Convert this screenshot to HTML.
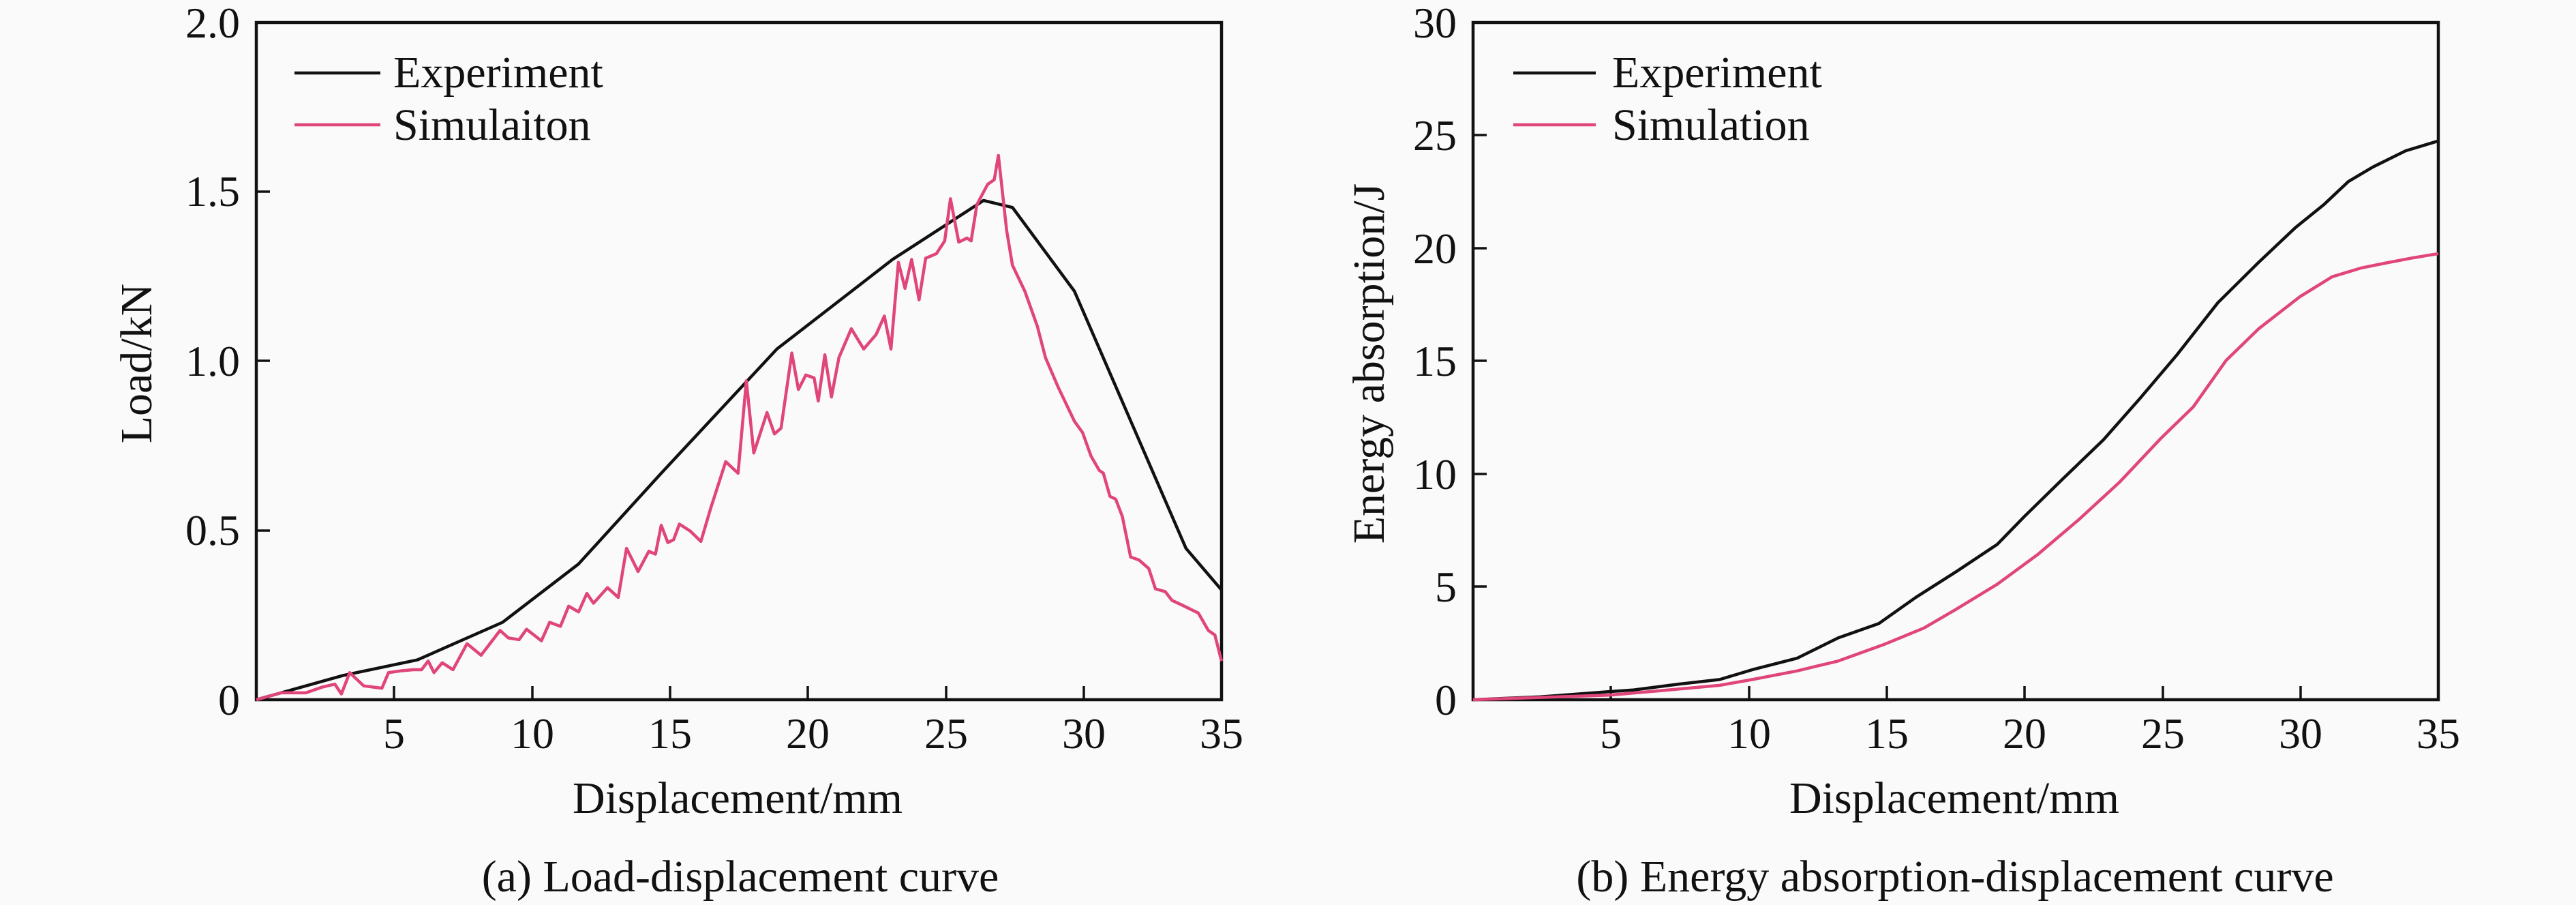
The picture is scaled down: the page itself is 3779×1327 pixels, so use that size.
<!DOCTYPE html>
<html><head><meta charset="utf-8"><style>
html,body{margin:0;padding:0;background:#fafafa;}
svg{display:block;}
text{font-family:"Liberation Serif",serif;fill:#111;}
</style></head><body>
<svg width="3779" height="1327" viewBox="0 0 3779 1327" xmlns="http://www.w3.org/2000/svg">
<rect width="3779" height="1327" fill="#fafafa"/>
<!-- LEFT PLOT -->
<g font-size="64">
<rect x="376" y="33" width="1416" height="993" fill="none" stroke="#111" stroke-width="4.5"/>
<g stroke="#111" stroke-width="3.5">
<line x1="578" y1="1026" x2="578" y2="1006"/><line x1="781" y1="1026" x2="781" y2="1006"/>
<line x1="983" y1="1026" x2="983" y2="1006"/><line x1="1185" y1="1026" x2="1185" y2="1006"/>
<line x1="1388" y1="1026" x2="1388" y2="1006"/><line x1="1590" y1="1026" x2="1590" y2="1006"/>
<line x1="376" y1="778" x2="396" y2="778"/><line x1="376" y1="529" x2="396" y2="529"/>
<line x1="376" y1="281" x2="396" y2="281"/>
</g>
<g text-anchor="middle">
<text x="578" y="1097">5</text><text x="781" y="1097">10</text><text x="983" y="1097">15</text>
<text x="1185" y="1097">20</text><text x="1388" y="1097">25</text><text x="1590" y="1097">30</text><text x="1792" y="1097">35</text>
</g>
<g text-anchor="end">
<text x="352" y="1048">0</text><text x="352" y="799">0.5</text><text x="352" y="551">1.0</text>
<text x="352" y="302">1.5</text><text x="352" y="55">2.0</text>
</g>
<text x="1082" y="1192" text-anchor="middle" font-size="66">Displacement/mm</text>
<text x="1086" y="1307" text-anchor="middle" font-size="66">(a) Load-displacement curve</text>
<text transform="translate(222,533) rotate(-90)" text-anchor="middle" font-size="66">Load/kN</text>
<line x1="432" y1="107" x2="558" y2="107" stroke="#111" stroke-width="4.5"/>
<line x1="432" y1="183" x2="558" y2="183" stroke="#e0457b" stroke-width="4.5"/>
<text x="577" y="128" font-size="66">Experiment</text>
<text x="577" y="205" font-size="66">Simulaiton</text>
<g transform="translate(376,33) scale(1.2123,0.8473) translate(-310,-40)" fill="none" stroke-linejoin="round">
<polyline vector-effect="non-scaling-stroke" stroke="#111" stroke-width="4.5" points="310,1212 415,1170 505,1143 608,1078 700,977 800,820 940,605 1080,450 1190,348 1225,360 1300,505 1435,950 1478,1022"/>
<polyline vector-effect="non-scaling-stroke" stroke="#e0457b" stroke-width="4.5" points="310,1212 340,1200 370,1200 390,1190 405,1185 413,1202 423,1165 440,1188 462,1192 470,1165 485,1162 500,1160 510,1160 518,1145 525,1165 535,1148 548,1160 565,1115 582,1135 605,1092 615,1105 628,1108 637,1090 655,1110 665,1078 678,1085 688,1050 700,1060 710,1028 718,1045 735,1018 748,1035 758,950 772,990 785,955 793,960 800,910 808,940 815,935 822,908 835,920 848,938 860,880 878,800 893,820 903,660 912,785 928,715 937,752 945,742 958,612 966,675 975,650 985,655 990,695 998,615 1006,688 1015,620 1030,570 1045,605 1060,580 1070,548 1078,605 1087,455 1095,500 1103,450 1112,520 1120,448 1133,440 1143,418 1150,345 1160,420 1170,413 1175,418 1182,355 1195,320 1203,312 1208,270 1218,400 1225,460 1240,505 1255,565 1265,620 1280,670 1300,730 1310,750 1320,790 1330,815 1335,820 1343,860 1350,865 1358,895 1368,965 1378,970 1390,985 1398,1020 1410,1025 1418,1040 1430,1048 1450,1062 1462,1092 1470,1100 1478,1145"/>
</g>
</g>
<!-- RIGHT PLOT -->
<g font-size="64">
<rect x="2161" y="33" width="1416" height="993" fill="none" stroke="#111" stroke-width="4.5"/>
<g stroke="#111" stroke-width="3.5">
<line x1="2363" y1="1026" x2="2363" y2="1006"/><line x1="2566" y1="1026" x2="2566" y2="1006"/>
<line x1="2768" y1="1026" x2="2768" y2="1006"/><line x1="2970" y1="1026" x2="2970" y2="1006"/>
<line x1="3173" y1="1026" x2="3173" y2="1006"/><line x1="3375" y1="1026" x2="3375" y2="1006"/>
<line x1="2161" y1="860" x2="2181" y2="860"/><line x1="2161" y1="695" x2="2181" y2="695"/>
<line x1="2161" y1="529" x2="2181" y2="529"/><line x1="2161" y1="364" x2="2181" y2="364"/>
<line x1="2161" y1="198" x2="2181" y2="198"/>
</g>
<g text-anchor="middle">
<text x="2363" y="1097">5</text><text x="2566" y="1097">10</text><text x="2768" y="1097">15</text>
<text x="2970" y="1097">20</text><text x="3173" y="1097">25</text><text x="3375" y="1097">30</text><text x="3577" y="1097">35</text>
</g>
<g text-anchor="end">
<text x="2137" y="1048">0</text><text x="2137" y="882">5</text><text x="2137" y="717">10</text>
<text x="2137" y="551">15</text><text x="2137" y="386">20</text><text x="2137" y="220">25</text><text x="2137" y="55">30</text>
</g>
<text x="2867" y="1192" text-anchor="middle" font-size="66">Displacement/mm</text>
<text x="2868" y="1307" text-anchor="middle" font-size="66">(b) Energy absorption-displacement curve</text>
<text transform="translate(2030,533) rotate(-90)" text-anchor="middle" font-size="66">Energy absorption/J</text>
<line x1="2220" y1="107" x2="2341" y2="107" stroke="#111" stroke-width="4.5"/>
<line x1="2220" y1="183" x2="2341" y2="183" stroke="#e0457b" stroke-width="4.5"/>
<text x="2365" y="128" font-size="66">Experiment</text>
<text x="2365" y="205" font-size="66">Simulation</text>
<g transform="translate(2161,33) scale(1.198,0.8473) translate(-218,-40)" fill="none" stroke-linejoin="round">
<polyline vector-effect="non-scaling-stroke" stroke="#111" stroke-width="4.5" points="218,1212 300,1207 385,1198 415,1195 470,1185 520,1177 560,1160 615,1140 665,1105 715,1080 760,1035 810,990 860,943 893,895 940,830 990,762 1035,690 1080,615 1130,525 1180,455 1225,395 1260,355 1290,315 1320,290 1360,262 1400,245"/>
<polyline vector-effect="non-scaling-stroke" stroke="#e0457b" stroke-width="4.5" points="218,1212 300,1208 385,1204 450,1196 520,1187 560,1177 615,1162 665,1145 720,1117 770,1088 810,1055 860,1012 910,960 960,900 1010,835 1060,760 1100,705 1140,625 1180,570 1230,515 1270,480 1305,465 1340,455 1370,447 1400,440"/>
</g>
</g>
</svg>
</body></html>
